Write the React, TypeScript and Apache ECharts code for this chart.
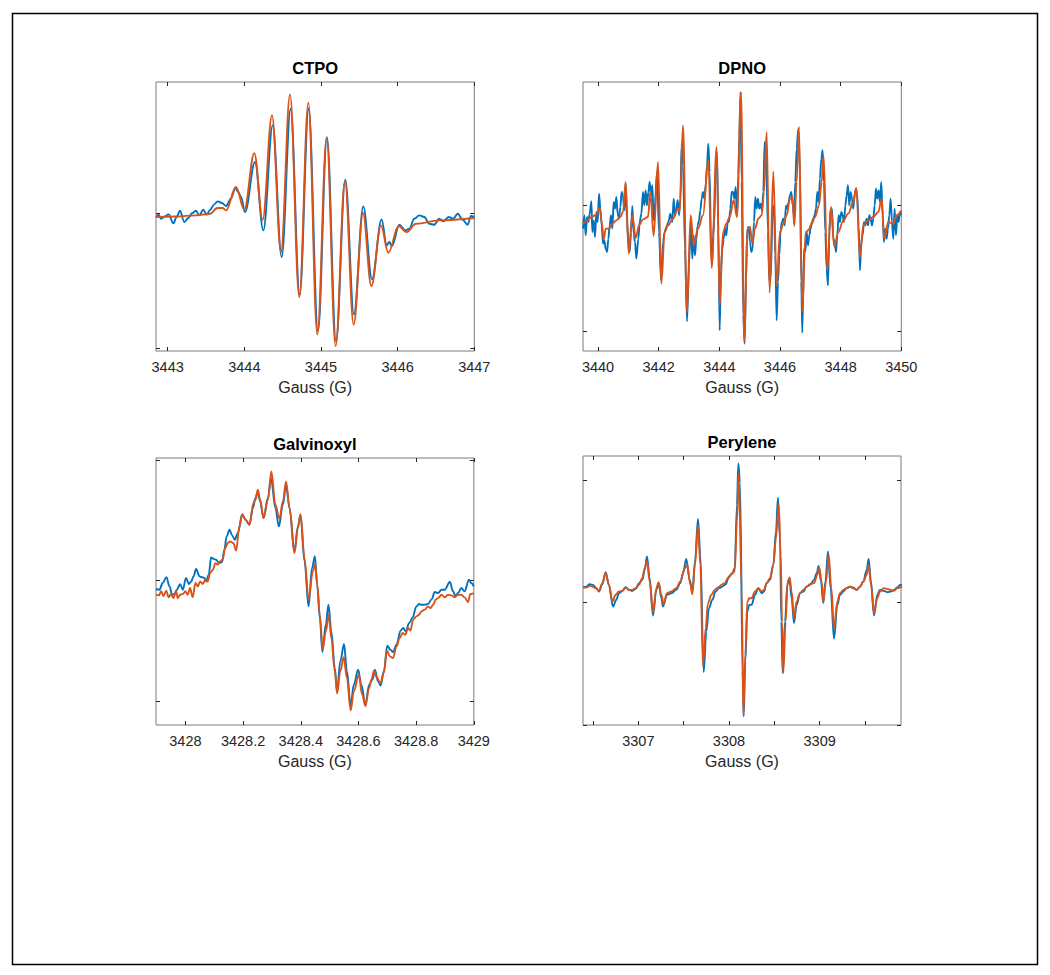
import React, { useEffect, useRef } from "react";
import * as echarts from "echarts";

type Pt = [number, number];

// ---------------- CTPO ----------------
const ctpoExp: Pt[] = [
  [3442.848, -0.029], [3442.883, -0.012], [3442.913, -0.042], [3442.957, -0.027], [3443.013, -0.010],
  [3443.074, -0.076], [3443.117, -0.029], [3443.161, 0.017], [3443.217, -0.066], [3443.270, -0.037],
  [3443.317, -0.002], [3443.370, 0.017], [3443.413, -0.017], [3443.465, 0.025], [3443.509, -0.012],
  [3443.552, 0.022], [3443.609, 0.066], [3443.652, 0.086], [3443.709, 0.074], [3443.761, 0.052],
  [3443.826, 0.106], [3443.883, 0.184], [3443.922, 0.155], [3443.957, 0.118], [3444.009, 0.007],
  [3444.139, 0.376], [3444.248, -0.128], [3444.370, 0.646], [3444.487, -0.324], [3444.604, 0.769],
  [3444.722, -0.602], [3444.839, 0.769], [3444.961, -0.872], [3445.078, 0.560], [3445.196, -0.946],
  [3445.317, 0.246], [3445.430, -0.747], [3445.552, 0.049], [3445.665, -0.489], [3445.791, -0.047],
  [3445.857, -0.238], [3445.891, -0.214], [3445.926, -0.243], [3446.022, -0.086], [3446.100, -0.128],
  [3446.152, -0.115], [3446.217, -0.042], [3446.283, -0.017], [3446.348, -0.029], [3446.413, -0.079],
  [3446.478, -0.086], [3446.543, -0.042], [3446.596, -0.061], [3446.665, -0.029], [3446.726, -0.042],
  [3446.783, -0.005], [3446.848, -0.049], [3446.913, -0.086], [3446.957, -0.022], [3447.000, -0.029],
];
const ctpoFit: Pt[] = [
  [3442.848, -0.029], [3443.109, -0.025], [3443.370, -0.017], [3443.543, -0.007], [3443.652, 0.037],
  [3443.717, 0.037], [3443.761, 0.020], [3443.891, 0.192], [3444.000, 0.025], [3444.130, 0.442],
  [3444.239, -0.049], [3444.361, 0.720], [3444.478, -0.287], [3444.596, 0.875], [3444.717, -0.619],
  [3444.835, 0.813], [3444.952, -0.894], [3445.074, 0.555], [3445.191, -0.980], [3445.313, 0.236],
  [3445.426, -0.823], [3445.548, 0.000], [3445.657, -0.538], [3445.783, -0.091], [3445.878, -0.292],
  [3446.013, -0.096], [3446.117, -0.140], [3446.239, -0.079], [3446.543, -0.054], [3447.000, -0.037],
];
const ctpoXRange = [3442.848, 3447];
const ctpoXTicks = [3443, 3444, 3445, 3446, 3447];
const ctpoYRange = [-1.017, 0.966];
const ctpoYTicks = [-1, 0];

// ---------------- DPNO ----------------
const dpnoExp: Pt[] = [
  [3439.505, -0.185], [3439.549, -0.079], [3439.593, -0.238], [3439.637, -0.093], [3439.681, -0.132],
  [3439.725, -0.066], [3439.780, 0.032], [3439.813, -0.212], [3439.857, -0.119], [3439.901, -0.251],
  [3439.945, -0.053], [3439.989, -0.132], [3440.033, 0.093], [3440.077, -0.026], [3440.121, -0.159],
  [3440.165, -0.304], [3440.209, -0.278], [3440.253, -0.344], [3440.297, -0.370], [3440.341, -0.265],
  [3440.385, -0.159], [3440.429, -0.079], [3440.473, -0.185], [3440.516, 0.026], [3440.560, -0.026],
  [3440.604, 0.066], [3440.648, -0.066], [3440.692, -0.106], [3440.736, -0.013], [3440.780, 0.106],
  [3440.824, 0.066], [3440.868, -0.040], [3440.912, 0.172], [3440.956, -0.132], [3441.000, -0.278],
  [3441.044, -0.370], [3441.088, -0.212], [3441.132, -0.005], [3441.176, -0.225], [3441.220, -0.291],
  [3441.264, -0.423], [3441.330, -0.265], [3441.374, -0.132], [3441.429, -0.066], [3441.484, 0.106],
  [3441.527, 0.000], [3441.571, 0.119], [3441.615, 0.000], [3441.659, 0.106], [3441.703, 0.185],
  [3441.747, 0.079], [3441.791, 0.159], [3441.835, -0.119], [3441.879, 0.026], [3441.945, 0.265],
  [3442.011, -0.212], [3442.077, -0.595], [3442.143, -0.291], [3442.198, -0.212], [3442.253, -0.172],
  [3442.319, -0.132], [3442.385, -0.066], [3442.451, -0.132], [3442.495, 0.053], [3442.538, -0.079],
  [3442.582, -0.026], [3442.626, 0.040], [3442.670, -0.079], [3442.714, 0.053], [3442.758, 0.489],
  [3442.802, 0.317], [3442.868, -0.344], [3442.934, -0.921], [3443.000, -0.476], [3443.055, -0.132],
  [3443.110, -0.423], [3443.154, -0.238], [3443.198, -0.397], [3443.242, -0.265], [3443.286, -0.159],
  [3443.330, -0.119], [3443.374, -0.040], [3443.418, 0.053], [3443.462, 0.106], [3443.505, 0.053],
  [3443.549, 0.159], [3443.593, 0.317], [3443.637, 0.489], [3443.681, 0.265], [3443.725, -0.291],
  [3443.758, -0.463], [3443.791, -0.238], [3443.835, -0.132], [3443.879, 0.317], [3443.923, 0.423],
  [3443.967, -0.185], [3444.011, -0.992], [3444.055, -0.503], [3444.099, -0.344], [3444.143, -0.265],
  [3444.187, -0.185], [3444.231, -0.238], [3444.275, -0.132], [3444.319, -0.132], [3444.363, -0.026],
  [3444.407, 0.106], [3444.451, 0.106], [3444.495, 0.053], [3444.538, 0.146], [3444.582, -0.079],
  [3444.626, 0.238], [3444.660, 0.550], [3444.700, 0.899], [3444.736, 0.185], [3444.791, -0.873],
  [3444.835, -1.098], [3444.879, -0.608], [3444.923, -0.185], [3444.967, -0.172], [3445.011, -0.291],
  [3445.055, -0.370], [3445.099, -0.344], [3445.143, -0.132], [3445.187, 0.066], [3445.230, -0.026],
  [3445.274, 0.053], [3445.318, -0.026], [3445.362, 0.013], [3445.406, -0.040], [3445.450, 0.106],
  [3445.494, 0.503], [3445.538, 0.450], [3445.604, -0.212], [3445.648, -0.608], [3445.692, -0.582],
  [3445.758, -0.053], [3445.802, 0.000], [3445.846, -0.397], [3445.890, -0.913], [3445.934, -0.608],
  [3445.978, -0.397], [3446.022, -0.185], [3446.066, -0.132], [3446.110, -0.106], [3446.154, -0.159],
  [3446.198, 0.000], [3446.242, -0.026], [3446.285, 0.026], [3446.329, 0.079], [3446.373, 0.106],
  [3446.417, 0.000], [3446.461, -0.079], [3446.505, 0.185], [3446.549, 0.450], [3446.604, 0.608],
  [3446.659, 0.265], [3446.703, -0.608], [3446.736, -1.011], [3446.791, -0.344], [3446.835, -0.370],
  [3446.879, -0.212], [3446.923, -0.317], [3446.967, -0.238], [3447.011, -0.185], [3447.055, -0.132],
  [3447.099, -0.106], [3447.143, -0.079], [3447.187, -0.026], [3447.230, 0.106], [3447.274, 0.026],
  [3447.318, 0.212], [3447.362, 0.370], [3447.406, 0.437], [3447.450, 0.185], [3447.494, -0.212],
  [3447.538, -0.503], [3447.582, -0.635], [3447.626, -0.212], [3447.670, -0.026], [3447.714, -0.026],
  [3447.758, -0.265], [3447.802, -0.291], [3447.846, -0.370], [3447.890, -0.238], [3447.934, -0.079],
  [3447.978, -0.132], [3448.022, -0.053], [3448.066, -0.079], [3448.110, -0.132], [3448.154, 0.000],
  [3448.198, 0.079], [3448.242, 0.159], [3448.285, 0.000], [3448.329, 0.106], [3448.373, 0.053],
  [3448.417, -0.026], [3448.461, 0.093], [3448.505, 0.132], [3448.549, 0.079], [3448.593, -0.159],
  [3448.637, -0.516], [3448.681, -0.291], [3448.725, -0.238], [3448.769, -0.132], [3448.813, -0.159],
  [3448.857, -0.106], [3448.901, -0.159], [3448.945, -0.079], [3448.989, -0.106], [3449.033, -0.159],
  [3449.077, -0.106], [3449.121, 0.000], [3449.165, 0.132], [3449.208, 0.053], [3449.252, 0.119],
  [3449.296, 0.026], [3449.340, 0.185], [3449.384, -0.079], [3449.428, -0.291], [3449.472, -0.185],
  [3449.516, -0.265], [3449.560, -0.185], [3449.604, -0.079], [3449.648, 0.053], [3449.692, -0.132],
  [3449.736, -0.265], [3449.780, -0.026], [3449.824, -0.238], [3449.868, -0.079], [3449.912, -0.132],
  [3449.956, -0.053], [3450.000, -0.079],
];
const dpnoFit: Pt[] = [
  [3439.505, -0.146], [3439.615, -0.127], [3439.780, -0.093], [3439.945, -0.074], [3440.055, -0.021],
  [3440.121, -0.132], [3440.187, -0.270], [3440.253, -0.185], [3440.363, -0.185], [3440.473, -0.146],
  [3440.604, -0.119], [3440.736, -0.093], [3440.824, -0.053], [3440.912, 0.185], [3441.011, -0.384],
  [3441.132, -0.079], [3441.242, -0.259], [3441.352, -0.159], [3441.484, -0.111], [3441.648, -0.093],
  [3441.725, 0.106], [3441.835, -0.243], [3441.978, 0.344], [3442.088, -0.622], [3442.198, -0.212],
  [3442.308, -0.159], [3442.473, -0.106], [3442.637, -0.026], [3442.692, -0.053], [3442.802, 0.635],
  [3442.934, -0.847], [3443.055, -0.079], [3443.154, -0.317], [3443.297, -0.185], [3443.462, -0.079],
  [3443.637, 0.360], [3443.747, -0.497], [3443.912, 0.463], [3444.011, -0.794], [3444.121, -0.212],
  [3444.231, -0.146], [3444.341, -0.093], [3444.473, 0.040], [3444.582, -0.093], [3444.714, 0.899],
  [3444.824, -1.085], [3444.923, -0.185], [3445.011, -0.172], [3445.088, -0.304], [3445.176, -0.185],
  [3445.285, -0.106], [3445.395, -0.079], [3445.472, 0.106], [3445.560, 0.582], [3445.659, -0.693],
  [3445.780, 0.270], [3445.890, -0.635], [3446.000, -0.212], [3446.110, -0.146], [3446.220, -0.079],
  [3446.329, 0.053], [3446.406, 0.066], [3446.472, -0.164], [3446.549, 0.185], [3446.626, 0.622],
  [3446.736, -0.847], [3446.846, -0.212], [3446.934, -0.198], [3447.044, -0.146], [3447.154, -0.093],
  [3447.285, 0.000], [3447.373, 0.185], [3447.439, 0.392], [3447.560, -0.516], [3447.681, -0.013],
  [3447.791, -0.331], [3447.923, -0.212], [3448.088, -0.119], [3448.253, -0.066], [3448.417, 0.026],
  [3448.516, 0.138], [3448.637, -0.410], [3448.747, -0.159], [3448.912, -0.119], [3449.077, -0.093],
  [3449.242, -0.053], [3449.352, 0.053], [3449.440, -0.265], [3449.571, -0.132], [3449.736, -0.146],
  [3449.846, -0.079], [3450.000, -0.040],
];
const dpnoXRange = [3439.505, 3450];
const dpnoXTicks = [3440, 3442, 3444, 3446, 3448, 3450];
const dpnoYRange = [-1.156, 0.979];
const dpnoYTicks = [-1, 0];

// ---------------- Galvinoxyl ----------------
const galvExp: Pt[] = [
  [3427.898, -0.069], [3427.910, -0.075], [3427.921, -0.019], [3427.934, 0.030], [3427.945, -0.047],
  [3427.954, -0.116], [3427.962, -0.110], [3427.970, -0.075], [3427.982, -0.028], [3427.991, -0.075],
  [3428.002, 0.022], [3428.012, -0.028], [3428.020, -0.006], [3428.028, 0.036], [3428.037, 0.097],
  [3428.049, 0.036], [3428.058, 0.028], [3428.066, 0.022], [3428.072, -0.006], [3428.081, 0.050],
  [3428.089, 0.193], [3428.097, 0.182], [3428.106, 0.174], [3428.118, 0.146], [3428.127, 0.155],
  [3428.135, 0.257], [3428.143, 0.367], [3428.153, 0.423], [3428.162, 0.376], [3428.171, 0.340],
  [3428.182, 0.395], [3428.197, 0.552], [3428.208, 0.506], [3428.222, 0.464], [3428.234, 0.602],
  [3428.243, 0.685], [3428.251, 0.740], [3428.259, 0.657], [3428.271, 0.519], [3428.286, 0.685],
  [3428.297, 0.845], [3428.312, 0.602], [3428.324, 0.450], [3428.338, 0.630], [3428.349, 0.796],
  [3428.361, 0.602], [3428.378, 0.243], [3428.390, 0.450], [3428.399, 0.547], [3428.413, 0.160],
  [3428.427, -0.213], [3428.439, 0.105], [3428.449, 0.204], [3428.457, -0.033], [3428.466, -0.309],
  [3428.475, -0.591], [3428.487, -0.359], [3428.496, -0.199], [3428.506, -0.420], [3428.518, -0.724],
  [3428.526, -0.917], [3428.537, -0.669], [3428.550, -0.525], [3428.560, -0.751], [3428.573, -1.033],
  [3428.584, -0.862], [3428.599, -0.738], [3428.610, -0.862], [3428.624, -1.028], [3428.637, -0.862],
  [3428.649, -0.820], [3428.657, -0.738], [3428.668, -0.834], [3428.677, -0.870], [3428.688, -0.751],
  [3428.700, -0.539], [3428.711, -0.572], [3428.720, -0.591], [3428.732, -0.530], [3428.746, -0.414],
  [3428.755, -0.392], [3428.764, -0.420], [3428.776, -0.351], [3428.787, -0.309], [3428.801, -0.213],
  [3428.810, -0.193], [3428.818, -0.199], [3428.830, -0.199], [3428.841, -0.193], [3428.853, -0.157],
  [3428.865, -0.094], [3428.876, -0.102], [3428.888, -0.075], [3428.899, -0.075], [3428.917, -0.011],
  [3428.928, -0.088], [3428.937, -0.130], [3428.945, -0.102], [3428.957, -0.061], [3428.968, -0.088],
  [3428.983, 0.008], [3428.991, -0.019], [3429.000, -0.047],
];
const galvFit: Pt[] = [
  [3427.898, -0.116], [3427.908, -0.122], [3427.916, -0.088], [3427.924, -0.130], [3427.933, -0.083],
  [3427.942, -0.138], [3427.950, -0.110], [3427.958, -0.144], [3427.968, -0.088], [3427.973, -0.144],
  [3427.982, -0.116], [3427.991, -0.110], [3428.000, -0.088], [3428.008, -0.116], [3428.016, -0.061],
  [3428.025, -0.138], [3428.035, -0.019], [3428.043, -0.047], [3428.051, -0.006], [3428.060, -0.028],
  [3428.069, 0.008], [3428.077, -0.006], [3428.086, 0.064], [3428.095, 0.091], [3428.104, 0.146],
  [3428.112, 0.133], [3428.120, 0.160], [3428.129, 0.174], [3428.138, 0.271], [3428.147, 0.312],
  [3428.155, 0.326], [3428.166, 0.312], [3428.176, 0.249], [3428.187, 0.450], [3428.197, 0.547],
  [3428.208, 0.506], [3428.222, 0.464], [3428.236, 0.644], [3428.243, 0.671], [3428.251, 0.754],
  [3428.259, 0.671], [3428.271, 0.519], [3428.286, 0.671], [3428.298, 0.906], [3428.312, 0.630],
  [3428.326, 0.514], [3428.338, 0.657], [3428.349, 0.823], [3428.361, 0.602], [3428.378, 0.229],
  [3428.390, 0.436], [3428.399, 0.552], [3428.413, 0.188], [3428.427, -0.157], [3428.442, 0.077],
  [3428.450, 0.141], [3428.457, -0.033], [3428.466, -0.282], [3428.476, -0.566], [3428.487, -0.420],
  [3428.497, -0.282], [3428.506, -0.475], [3428.518, -0.751], [3428.526, -0.934], [3428.537, -0.751],
  [3428.549, -0.635], [3428.560, -0.807], [3428.573, -1.075], [3428.584, -0.917], [3428.601, -0.779],
  [3428.613, -0.945], [3428.624, -1.039], [3428.637, -0.890], [3428.645, -0.820], [3428.654, -0.746],
  [3428.665, -0.807], [3428.676, -0.851], [3428.688, -0.765], [3428.699, -0.580], [3428.709, -0.627],
  [3428.720, -0.641], [3428.732, -0.544], [3428.743, -0.475], [3428.753, -0.434], [3428.762, -0.448],
  [3428.772, -0.392], [3428.780, -0.414], [3428.790, -0.323], [3428.801, -0.296], [3428.810, -0.282],
  [3428.818, -0.254], [3428.830, -0.240], [3428.841, -0.213], [3428.850, -0.227], [3428.859, -0.199],
  [3428.868, -0.157], [3428.876, -0.144], [3428.888, -0.116], [3428.899, -0.138], [3428.911, -0.116],
  [3428.922, -0.122], [3428.934, -0.138], [3428.945, -0.116], [3428.957, -0.116], [3428.968, -0.138],
  [3428.980, -0.177], [3428.988, -0.110], [3429.000, -0.102],
];
const galvXRange = [3427.898, 3429];
const galvXTicks = [3428, 3428.2, 3428.4, 3428.6, 3428.8, 3429];
const galvYRange = [-1.196, 1.017];
const galvYTicks = [-1, 0, 1];

// ---------------- Perylene ----------------
const peryExp: Pt[] = [
  [3306.390, 0.125], [3306.426, 0.130], [3306.463, 0.149], [3306.500, 0.144], [3306.537, 0.117],
  [3306.566, 0.090], [3306.603, 0.149], [3306.640, 0.247], [3306.676, 0.144], [3306.721, -0.033],
  [3306.757, 0.022], [3306.787, 0.076], [3306.824, 0.095], [3306.860, 0.125], [3306.897, 0.103],
  [3306.934, 0.095], [3306.971, 0.111], [3307.007, 0.158], [3307.044, 0.185], [3307.070, 0.266],
  [3307.096, 0.375], [3307.125, 0.198], [3307.162, -0.106], [3307.199, 0.103], [3307.224, 0.158],
  [3307.254, 0.035], [3307.272, -0.033], [3307.316, 0.063], [3307.364, 0.076], [3307.419, 0.103],
  [3307.463, 0.158], [3307.493, 0.239], [3307.529, 0.356], [3307.566, 0.185], [3307.596, 0.090],
  [3307.625, 0.334], [3307.658, 0.682], [3307.684, 0.389], [3307.721, -0.568], [3307.750, -0.236],
  [3307.779, -0.046], [3307.816, 0.022], [3307.853, 0.090], [3307.890, 0.117], [3307.926, 0.130],
  [3307.963, 0.149], [3308.000, 0.212], [3308.037, 0.239], [3308.063, 0.280], [3308.088, 0.796],
  [3308.103, 1.136], [3308.121, 0.980], [3308.151, -0.563], [3308.162, -0.929], [3308.180, -0.481],
  [3308.202, -0.073], [3308.224, -0.019], [3308.250, -0.019], [3308.287, 0.063], [3308.324, 0.117],
  [3308.360, 0.076], [3308.386, 0.090], [3308.415, 0.158], [3308.452, 0.185], [3308.489, 0.307],
  [3308.518, 0.579], [3308.540, 0.856], [3308.563, 0.524], [3308.577, -0.155], [3308.592, -0.576],
  [3308.618, -0.155], [3308.643, 0.144], [3308.665, 0.193], [3308.691, 0.035], [3308.717, -0.168],
  [3308.746, -0.019], [3308.783, 0.076], [3308.820, 0.090], [3308.857, 0.130], [3308.893, 0.144],
  [3308.938, 0.185], [3308.967, 0.239], [3308.989, 0.299], [3309.015, 0.171], [3309.040, -0.005],
  [3309.063, 0.171], [3309.092, 0.416], [3309.121, 0.117], [3309.158, -0.296], [3309.195, -0.019],
  [3309.224, 0.063], [3309.261, 0.090], [3309.298, 0.117], [3309.335, 0.130], [3309.371, 0.117],
  [3309.408, 0.103], [3309.445, 0.130], [3309.482, 0.171], [3309.518, 0.266], [3309.540, 0.356],
  [3309.566, 0.171], [3309.599, -0.106], [3309.636, 0.063], [3309.665, 0.103], [3309.710, 0.095],
  [3309.746, 0.084], [3309.783, 0.090], [3309.820, 0.103], [3309.857, 0.122], [3309.886, 0.144],
  [3309.908, 0.139],
];
const peryFit: Pt[] = [
  [3306.390, 0.122], [3306.426, 0.122], [3306.463, 0.136], [3306.493, 0.130], [3306.529, 0.117],
  [3306.566, 0.095], [3306.603, 0.158], [3306.640, 0.239], [3306.676, 0.144], [3306.713, 0.008],
  [3306.750, 0.063], [3306.787, 0.090], [3306.824, 0.095], [3306.860, 0.122], [3306.897, 0.103],
  [3306.934, 0.103], [3306.971, 0.117], [3307.007, 0.144], [3307.044, 0.198], [3307.070, 0.280],
  [3307.096, 0.340], [3307.125, 0.171], [3307.162, -0.079], [3307.199, 0.117], [3307.224, 0.166],
  [3307.254, 0.063], [3307.279, -0.014], [3307.316, 0.076], [3307.364, 0.090], [3307.419, 0.117],
  [3307.463, 0.171], [3307.511, 0.280], [3307.540, 0.307], [3307.574, 0.144], [3307.596, 0.068],
  [3307.625, 0.307], [3307.658, 0.628], [3307.684, 0.307], [3307.713, -0.514], [3307.743, -0.209],
  [3307.768, -0.005], [3307.805, 0.063], [3307.842, 0.103], [3307.879, 0.122], [3307.915, 0.144],
  [3307.952, 0.158], [3307.989, 0.198], [3308.026, 0.231], [3308.063, 0.253], [3308.088, 0.660],
  [3308.107, 1.054], [3308.140, 0.117], [3308.158, -0.921], [3308.180, -0.427], [3308.202, 0.008],
  [3308.224, 0.035], [3308.250, 0.035], [3308.287, 0.090], [3308.324, 0.117], [3308.360, 0.090],
  [3308.386, 0.103], [3308.415, 0.158], [3308.452, 0.198], [3308.489, 0.307], [3308.518, 0.524],
  [3308.548, 0.802], [3308.570, 0.389], [3308.585, -0.155], [3308.599, -0.576], [3308.625, -0.155],
  [3308.647, 0.171], [3308.669, 0.204], [3308.691, 0.090], [3308.717, -0.128], [3308.746, 0.008],
  [3308.783, 0.076], [3308.820, 0.103], [3308.857, 0.130], [3308.893, 0.149], [3308.938, 0.158],
  [3308.974, 0.226], [3308.996, 0.285], [3309.022, 0.171], [3309.040, 0.008], [3309.070, 0.171],
  [3309.099, 0.389], [3309.129, 0.117], [3309.158, -0.215], [3309.195, 0.008], [3309.224, 0.076],
  [3309.261, 0.103], [3309.298, 0.117], [3309.335, 0.130], [3309.371, 0.122], [3309.408, 0.103],
  [3309.445, 0.130], [3309.482, 0.171], [3309.518, 0.226], [3309.540, 0.307], [3309.566, 0.144],
  [3309.599, -0.087], [3309.636, 0.035], [3309.665, 0.090], [3309.710, 0.117], [3309.746, 0.111],
  [3309.783, 0.103], [3309.820, 0.095], [3309.857, 0.117], [3309.886, 0.122], [3309.908, 0.130],
];
const peryXRange = [3306.39, 3309.897];
const peryXTicks = [3306.5, 3307, 3307.5, 3308, 3308.5, 3309, 3309.5];
const peryXLabels = [3307, 3308, 3309];
const peryYRange = [-1.0, 1.196];
const peryYTicks = [-1, 0, 1];

const xAxisTitle = "Gauss (G)";

// ---------------- styling ----------------
const FONT = '"Liberation Sans", Arial, Helvetica, sans-serif';
const BLUE = "#0072BD";
const ORANGE = "#D95319";
const TEXT = "#262626";
const BOX = "#7a7a7a";

const panels = [
  { title: "CTPO", exp: ctpoExp, fit: ctpoFit, xr: ctpoXRange, xt: ctpoXTicks, xl: ctpoXTicks, yr: ctpoYRange, yt: ctpoYTicks,
    box: { left: 156, top: 82, width: 318.3, height: 269 }, smoothExp: 0.36, smoothFit: 0.37 },
  { title: "DPNO", exp: dpnoExp, fit: dpnoFit, xr: dpnoXRange, xt: dpnoXTicks, xl: dpnoXTicks, yr: dpnoYRange, yt: dpnoYTicks,
    box: { left: 583, top: 82, width: 318.3, height: 269 }, smoothExp: 0.3, smoothFit: 0.36 },
  { title: "Galvinoxyl", exp: galvExp, fit: galvFit, xr: galvXRange, xt: galvXTicks, xl: galvXTicks, yr: galvYRange, yt: galvYTicks,
    box: { left: 156, top: 458, width: 317.8, height: 267 }, smoothExp: 0.36, smoothFit: 0.36 },
  { title: "Perylene", exp: peryExp, fit: peryFit, xr: peryXRange, xt: peryXTicks, xl: peryXLabels, yr: peryYRange, yt: peryYTicks,
    box: { left: 583, top: 456, width: 318, height: 269 }, smoothExp: 0.36, smoothFit: 0.36 },
];

const fmt = (v: number) => String(Math.round(v * 10) / 10);

function buildOption() {
  const grid = panels.map((p) => ({
    ...p.box, show: true, borderColor: BOX, borderWidth: 1, backgroundColor: "rgba(0,0,0,0)", containLabel: false,
  }));
  const tick = (vals: number[]) => ({
    show: true, inside: true, length: 4, customValues: vals, lineStyle: { color: TEXT, width: 1 },
  });
  const noLine = { show: false, onZero: false };
  const xAxis: any[] = [];
  const yAxis: any[] = [];
  panels.forEach((p, i) => {
    xAxis.push({
      type: "value", gridIndex: i, position: "bottom", min: p.xr[0], max: p.xr[1],
      axisLine: noLine, splitLine: { show: false }, axisTick: tick(p.xt),
      axisLabel: {
        show: true, customValues: p.xl, margin: 8, color: TEXT, fontSize: 14.5, fontFamily: FONT,
        showMinLabel: true, showMaxLabel: true, hideOverlap: false, formatter: (v: number) => fmt(v),
      },
      name: xAxisTitle, nameLocation: "middle", nameGap: 28,
      nameTextStyle: { color: TEXT, fontSize: 16, fontFamily: FONT },
    });
    xAxis.push({
      type: "value", gridIndex: i, position: "top", min: p.xr[0], max: p.xr[1],
      axisLine: noLine, splitLine: { show: false }, axisTick: tick(p.xt), axisLabel: { show: false },
    });
    yAxis.push({
      type: "value", gridIndex: i, position: "left", min: p.yr[0], max: p.yr[1],
      axisLine: noLine, splitLine: { show: false }, axisTick: tick(p.yt), axisLabel: { show: false },
    });
    yAxis.push({
      type: "value", gridIndex: i, position: "right", min: p.yr[0], max: p.yr[1],
      axisLine: noLine, splitLine: { show: false }, axisTick: tick(p.yt), axisLabel: { show: false },
    });
  });
  const series: any[] = [];
  panels.forEach((p, i) => {
    series.push({
      type: "line", name: p.title + " measured", xAxisIndex: 2 * i, yAxisIndex: 2 * i, data: p.exp,
      showSymbol: false, symbol: "none", smooth: p.smoothExp, smoothMonotone: "x", silent: true, z: 2,
      lineStyle: { color: BLUE, width: 1.9 }, itemStyle: { color: BLUE },
    });
    series.push({
      type: "line", name: p.title + " fit", xAxisIndex: 2 * i, yAxisIndex: 2 * i, data: p.fit,
      showSymbol: false, symbol: "none", smooth: p.smoothFit, smoothMonotone: "x", silent: true, z: 3,
      lineStyle: { color: ORANGE, width: 1.9 }, itemStyle: { color: ORANGE },
    });
  });
  const graphic: any[] = [
    {
      type: "rect", silent: true, z: 0,
      shape: { x: 12.5, y: 13.5, width: 1025, height: 951 },
      style: { fill: "none", stroke: "#000", lineWidth: 1.5 },
    },
  ];
  panels.forEach((p) => {
    graphic.push({
      type: "text", silent: true,
      x: p.box.left + p.box.width / 2, y: p.box.top - 14,
      style: {
        text: p.title, font: `bold 16.5px ${FONT}`, fill: "#000",
        align: "center", verticalAlign: "middle", textAlign: "center", textVerticalAlign: "middle",
      },
    });
  });
  return { animation: false, backgroundColor: "#ffffff", grid, xAxis, yAxis, series, graphic };
}

export default function App() {
  const ref = useRef<HTMLDivElement>(null);
  useEffect(() => {
    if (!ref.current) return;
    const chart = echarts.init(ref.current, null, { renderer: "svg" });
    chart.setOption(buildOption() as any);
    return () => chart.dispose();
  }, []);
  return (
    <div
      ref={ref}
      style={{ position: "absolute", left: 0, top: 0, width: 1050, height: 975, background: "#fff" }}
    />
  );
}
